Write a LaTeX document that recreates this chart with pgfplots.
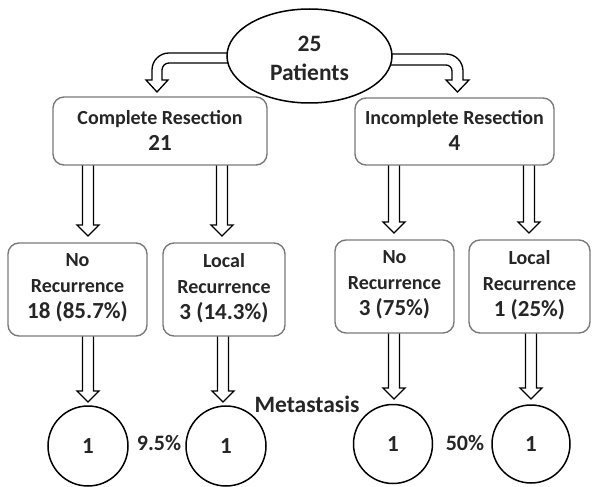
\documentclass[border=0pt]{standalone}
\usepackage{pgfplots}
\pgfplotsset{compat=1.18}
\usepackage{fontspec}
\setmainfont{Carlito}
\definecolor{txt}{HTML}{262626}
\definecolor{boxc}{HTML}{7A7A7A}
\newcommand\num{\fontsize{23}{26}\selectfont}
\tikzset{
  arrowst/.style={draw=black, fill=white, line width=1.3pt, line join=miter},
  rbox/.style={draw=boxc, fill=white, line width=1.4pt, rounded corners=11pt},
  circ/.style={draw=black, fill=white, line width=1.5pt},
  lbl/.style={text=txt, font=\bfseries\fontsize{20}{26}\selectfont, align=center, inner sep=0pt},
  big/.style={text=txt, font=\bfseries\fontsize{23.5}{29}\selectfont, align=center, inner sep=0pt},
}
% #1 left shaft, #2 centre, #3 right shaft, #4 left head, #5 right head, #6 start y, #7 head y, #8 tip y
\newcommand\varrow[8]{\draw[arrowst] (axis cs:#1,#6) -- (axis cs:#1,#7) -- (axis cs:#4,#7) -- (axis cs:#2,#8) -- (axis cs:#5,#7) -- (axis cs:#3,#7) -- (axis cs:#3,#6);}
\begin{document}
\begin{tikzpicture}
\begin{axis}[
  scale only axis, width=592pt, height=486pt,
  xmin=0, xmax=592, ymin=0, ymax=486, y dir=reverse,
  hide axis, clip=false]
\path (axis cs:0,0) rectangle (axis cs:592,486);
% curved arrows from the ellipse
\draw[arrowst] (axis cs:240,53) -- (axis cs:169,53) .. controls (axis cs:159.6,53) and (axis cs:152,60.6) .. (axis cs:152,70) -- (axis cs:152,80) -- (axis cs:146,80) -- (axis cs:157,92) -- (axis cs:168,80) -- (axis cs:162,80) -- (axis cs:162,70) .. controls (axis cs:162,66.1) and (axis cs:165.1,63) .. (axis cs:169,63) -- (axis cs:240,63);
\draw[arrowst] (axis cs:380,54) -- (axis cs:446,54) .. controls (axis cs:455.4,54) and (axis cs:463,61.6) .. (axis cs:463,71) -- (axis cs:463,80) -- (axis cs:469,80) -- (axis cs:457.5,92) -- (axis cs:446,80) -- (axis cs:452,80) -- (axis cs:452,71) .. controls (axis cs:452,67.7) and (axis cs:449.3,65) .. (axis cs:446,65) -- (axis cs:380,65);
\draw[circ] (axis cs:309.5,56) ellipse [x radius=82.5, y radius=47];
\node[big] at (axis cs:309.5,58) {25\\Patients};
% vertical arrows, first level
\varrow{82.5}{88}{93.5}{77}{99}{163}{225}{236}
\varrow{216.5}{222}{227.5}{211}{233}{163}{225}{236}
\varrow{388.5}{394}{399.5}{383}{405}{163}{222}{233}
\varrow{523.5}{529}{534.5}{518}{540}{163}{222}{233}
% vertical arrows, second level
\varrow{82.5}{88}{93.5}{77}{99}{333}{391}{402}
\varrow{217.5}{223}{228.5}{212}{234}{333}{391}{402}
\varrow{388.5}{394}{399.5}{383}{405}{330}{388}{399}
\varrow{525.5}{531}{536.5}{520}{542}{330}{388}{399}
% first level boxes
\draw[rbox] (axis cs:53,97) rectangle (axis cs:267,165);
\node[lbl] at (axis cs:160,130) {Complete Resection\\\num 21};
\draw[rbox] (axis cs:355,98) rectangle (axis cs:554,165);
\node[lbl] at (axis cs:454.5,130) {Incomplete Resection\\\num 4};
% second level boxes
\draw[rbox] (axis cs:8,243) rectangle (axis cs:147,336);
\node[lbl] at (axis cs:77.5,288) {No\\Recurrence\\\num 18 (85.7\%)};
\draw[rbox] (axis cs:163,243) rectangle (axis cs:285,336);
\node[lbl] at (axis cs:224,288) {Local\\Recurrence\\\num 3 (14.3\%)};
\draw[rbox] (axis cs:335,240) rectangle (axis cs:454,333);
\node[lbl] at (axis cs:394.5,285) {No\\Recurrence\\\num 3 (75\%)};
\draw[rbox] (axis cs:469,240) rectangle (axis cs:590,333);
\node[lbl] at (axis cs:529.5,285) {Local\\Recurrence\\\num 1 (25\%)};
% metastasis circles
\draw[circ] (axis cs:88,446) circle [radius=40];
\node[lbl, font=\bfseries\fontsize{23}{25}\selectfont] at (axis cs:88,446) {1};
\draw[circ] (axis cs:226,446) circle [radius=40];
\node[lbl, font=\bfseries\fontsize{23}{25}\selectfont] at (axis cs:226,446) {1};
\draw[circ] (axis cs:393,444) circle [radius=39.5];
\node[lbl, font=\bfseries\fontsize{23}{25}\selectfont] at (axis cs:393,444) {1};
\draw[circ] (axis cs:531,444) circle [radius=39];
\node[lbl, font=\bfseries\fontsize{23}{25}\selectfont] at (axis cs:531,444) {1};
\node[big, font=\bfseries\fontsize{22}{25}\selectfont] at (axis cs:159,443) {9.5\%};
\node[big, font=\bfseries\fontsize{22}{25}\selectfont] at (axis cs:465,443) {50\%};
\node[big] at (axis cs:307,404) {Metastasis};
\end{axis}
\end{tikzpicture}
\end{document}
